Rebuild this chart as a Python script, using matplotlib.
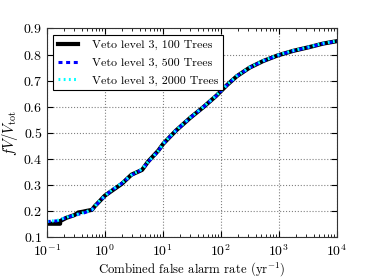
import numpy as np
import matplotlib
matplotlib.use("Agg")
import matplotlib.pyplot as plt

plt.rcParams["font.family"] = "cmr10"
plt.rcParams["mathtext.fontset"] = "cm"
plt.rcParams["axes.formatter.use_mathtext"] = True
plt.rcParams["font.size"] = 10

# false alarm rate (per yr) vs fV/Vtot
far_100 = [0.1, 0.17, 0.17, 0.22, 0.3, 0.35, 0.42, 0.46, 0.6, 0.68, 0.83, 1.0,
           1.32, 1.95, 2.9, 4.4, 5.6, 8.4, 10.2, 17, 30, 50, 85, 127, 190,
           317, 540, 975, 1780, 3470, 5880, 10000]
vol_100 = [0.152, 0.152, 0.162, 0.175, 0.185, 0.195, 0.198, 0.20, 0.205, 0.22,
           0.24, 0.259, 0.278, 0.304, 0.34, 0.358, 0.39, 0.432, 0.458, 0.509,
           0.558, 0.598, 0.643, 0.682, 0.717, 0.75, 0.775, 0.797, 0.814,
           0.829, 0.842, 0.851]

far_500 = [0.1, 0.15, 0.22, 0.35, 0.46, 0.6, 0.83, 1.0, 1.32, 1.95, 2.9, 4.4,
           5.6, 8.4, 10.2, 17, 30, 50, 85, 127, 190, 317, 540, 975, 1780,
           3470, 5880, 10000]
vol_500 = [0.16, 0.163, 0.176, 0.188, 0.195, 0.205, 0.24, 0.257, 0.28, 0.306,
           0.338, 0.36, 0.388, 0.43, 0.458, 0.509, 0.558, 0.598, 0.643, 0.682,
           0.717, 0.75, 0.775, 0.797, 0.814, 0.829, 0.842, 0.851]

far_2000 = far_500
vol_2000 = [0.161, 0.164, 0.177, 0.189, 0.196, 0.206, 0.242, 0.258, 0.281, 0.307,
            0.339, 0.361, 0.389, 0.431, 0.459, 0.51, 0.559, 0.599, 0.644, 0.683,
            0.718, 0.751, 0.776, 0.798, 0.815, 0.83, 0.843, 0.852]

fig = plt.figure(figsize=(3.74, 2.8), dpi=100)
ax = fig.add_axes([0.125, 0.1525, 0.775, 0.746])

ax.plot(far_100, vol_100, color="black", lw=3,
        label="Veto level 3, 100 Trees")
ax.plot(far_500, vol_500, color="blue", lw=2.2, ls=(0, (1.3, 1.2)),
        label="Veto level 3, 500 Trees")
ax.plot(far_2000, vol_2000, color="cyan", lw=2.2, ls=(0, (0.6, 1.1)),
        label="Veto level 3, 2000 Trees")

ax.set_xscale("log")
ax.set_xlim(0.1, 1e4)
ax.set_ylim(0.1, 0.9)
ax.set_yticks(np.arange(0.1, 0.91, 0.1))
ax.grid(True, color="gray", ls=":", lw=0.8)
ax.tick_params(which="both", direction="in", top=True, right=True,
               labelsize=10)
ax.tick_params(which="major", length=4)
ax.tick_params(which="minor", length=2)
ax.tick_params(axis="x", which="major", pad=4)
ax.tick_params(axis="y", which="major", pad=3)
for s in ax.spines.values():
    s.set_color("#333333")

ax.set_xlabel(r"Combined false alarm rate (yr$^{-1}$)", fontsize=9.2,
              labelpad=1)
ax.set_ylabel(r"$fV/V_{\rm tot}$", fontsize=10.5, labelpad=2)

leg = ax.legend(loc="upper left", fancybox=False, framealpha=1,
                edgecolor="black", fontsize=8.6, handlelength=1.7,
                handletextpad=1.1, labelspacing=0.6, borderpad=0.4,
                borderaxespad=0.55)
leg.get_frame().set_linewidth(0.8)

fig.savefig("out.png", dpi=100)
